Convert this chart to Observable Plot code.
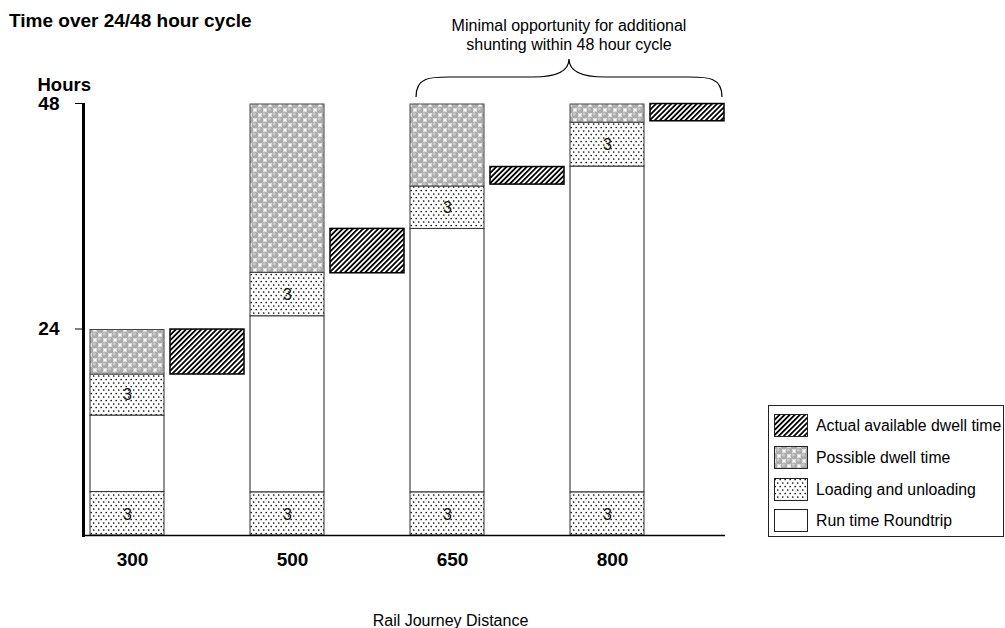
<!DOCTYPE html>
<html>
<head>
<meta charset="utf-8">
<script src="https://cdn.jsdelivr.net/npm/d3@7"></script>
<script src="https://cdn.jsdelivr.net/npm/@observablehq/plot@0.6"></script>
<style>
  body { margin: 0; background: #fff; font-family: "Liberation Sans", Arial, sans-serif; color: #000; }
  #wrap { position: relative; width: 1005px; height: 628px; overflow: hidden; }
  #title { position: absolute; left: 9px; top: 10px; font-size: 19px; font-weight: bold; white-space: nowrap; }
  #chart { position: absolute; left: 0; top: 0; }
  #legend { position: absolute; left: 768px; top: 405px; width: 236px; height: 132px; border: 1px solid #222; box-sizing: border-box; background: #fff; }
  .row { position: absolute; left: 5px; height: 23px; display: flex; align-items: center; font-size: 15.8px; white-space: nowrap; }
  .row svg { margin-right: 8px; flex: none; }
</style>
</head>
<body>
<svg width="0" height="0" style="position:absolute">
  <defs>
    <pattern id="hatch" width="3.6" height="3.6" patternUnits="userSpaceOnUse" patternTransform="rotate(45)">
      <rect width="3.6" height="3.6" fill="#fff"/>
      <rect width="1.8" height="3.6" fill="#000"/>
    </pattern>
    <pattern id="dots" width="5" height="7" patternUnits="userSpaceOnUse">
      <rect width="5" height="7" fill="#fff"/>
      <circle cx="1.2" cy="1.5" r="0.85" fill="#111"/>
      <circle cx="3.7" cy="5" r="0.85" fill="#111"/>
    </pattern>
    <pattern id="bubbles" width="10" height="10" patternUnits="userSpaceOnUse">
      <rect width="10" height="10" fill="#fff"/>
      <g fill="#ababab">
        <circle cx="0" cy="0" r="3.5"/><circle cx="10" cy="0" r="3.5"/>
        <circle cx="0" cy="10" r="3.5"/><circle cx="10" cy="10" r="3.5"/>
        <circle cx="5" cy="5" r="3.5"/>
      </g>
      <g fill="#c9c9c9">
        <circle cx="4.2" cy="3.9" r="1.6"/>
        <circle cx="9.2" cy="8.9" r="1.6"/>
        <circle cx="-0.8" cy="8.9" r="1.6"/>
        <circle cx="9.2" cy="-1.1" r="1.6"/>
        <circle cx="-0.8" cy="-1.1" r="1.6"/>
      </g>
    </pattern>
  </defs>
</svg>
<div id="wrap">
  <div id="chart"></div>
  <div id="title">Time over 24/48 hour cycle</div>
  <div id="legend"></div>
</div>
<script>
const distances     = ["300", "500", "650", "800"];
const loadingHours  = [3, 3, 3, 3];                  // label of each loading block
const bottomLoadTop = [5.6, 5.55, 5.55, 5.55];       // first loading block: 0 -> this
const runTop        = [14.5, 25.5, 34.9, 41.5];      // run time roundtrip
const topLoadTop    = [19.1, 30.2, 39.4, 46.1];      // second loading block
const possibleTop   = [24, 48, 48, 48];              // possible dwell time
const actualBottom  = [19.1, 30.15, 39.6, 46.25];    // actual available dwell time
const actualTop     = [24.05, 34.9, 41.45, 48.05];
const yTicks = [24, 48];
const legendItems = ["Actual available dwell time", "Possible dwell time", "Loading and unloading", "Run time Roundtrip"];
const legendFills = ["url(#hatch)", "url(#bubbles)", "url(#dots)", "#fff"];
const annotation = ["Minimal opportunity for additional", "shunting within 48 hour cycle"];
const xTitle = "Rail Journey Distance";
const yTitle = "Hours";

// ---- build tables ----
const slots = distances.flatMap(d => [d, d + " dwell"]);
const loadSegs = [], runSegs = [], possibleSegs = [], actualSegs = [];
distances.forEach((d, i) => {
  loadSegs.push({slot: d, y1: 0, y2: bottomLoadTop[i], label: loadingHours[i]});
  runSegs.push({slot: d, y1: bottomLoadTop[i], y2: runTop[i]});
  loadSegs.push({slot: d, y1: runTop[i], y2: topLoadTop[i], label: loadingHours[i]});
  possibleSegs.push({slot: d, y1: topLoadTop[i], y2: possibleTop[i]});
  actualSegs.push({slot: d + " dwell", y1: actualBottom[i], y2: actualTop[i]});
});

function brace(index, scales) {
  const x = scales.x, y = scales.y;
  const bw = typeof x.bandwidth === "function" ? x.bandwidth() : 74;
  const x1 = x("650") + 6, x2 = x("800 dwell") + bw - 2;
  const y0 = y(48);
  const yEnd = y0 - 7, yFlat = y0 - 27, yTip = y0 - 45;
  const xm = (x1 + x2) / 2;
  const g = d3.create("svg:g");
  const p = `M${x1},${yEnd} C${x1},${yFlat - 1} ${x1 + 16},${yFlat} ${x1 + 36},${yFlat}`
    + ` L${xm - 36},${yFlat} C${xm - 12},${yFlat} ${xm},${yFlat - 6} ${xm},${yTip}`
    + ` C${xm},${yFlat - 6} ${xm + 12},${yFlat} ${xm + 36},${yFlat}`
    + ` L${x2 - 36},${yFlat} C${x2 - 16},${yFlat} ${x2},${yFlat - 1} ${x2},${yEnd}`;
  g.append("path").attr("d", p).attr("fill", "none").attr("stroke", "#000").attr("stroke-width", 1.2);
  annotation.forEach((t, i) => {
    g.append("text").attr("x", xm).attr("y", y0 - 73 + i * 19)
      .attr("text-anchor", "middle").attr("font-size", 16).attr("fill", "#000").text(t);
  });
  return g.node();
}

const chart = Plot.plot({
  width: 1005,
  height: 628,
  marginLeft: 83,
  marginRight: 280,
  marginTop: 104,
  marginBottom: 93,
  style: {fontFamily: '"Liberation Sans", Arial, sans-serif', background: "transparent", color: "#000"},
  x: {type: "band", domain: slots, range: [89, 724], paddingInner: 0.075, paddingOuter: 0},
  y: {type: "pow", exponent: 1.0686, domain: [0, 48]},
  marks: [
    Plot.barY(runSegs, {x: "slot", y1: "y1", y2: "y2", fill: "#fff", stroke: "#222", strokeWidth: 1}),
    Plot.barY(loadSegs, {x: "slot", y1: "y1", y2: "y2", fill: "url(#dots)", stroke: "#333", strokeWidth: 1}),
    Plot.barY(possibleSegs, {x: "slot", y1: "y1", y2: "y2", fill: "url(#bubbles)", stroke: "#444", strokeWidth: 1}),
    Plot.barY(actualSegs, {x: "slot", y1: "y1", y2: "y2", fill: "url(#hatch)", stroke: "#000", strokeWidth: 1.5}),
    Plot.text(loadSegs, {x: "slot", y: d => (d.y1 + d.y2) / 2, text: "label", fontSize: 16, fill: "#111"}),
    Plot.ruleY([0], {stroke: "#000", strokeWidth: 1.5}),
    Plot.frame({anchor: "left", stroke: "#000", strokeWidth: 3}),
    Plot.axisY({ticks: yTicks, tickSize: 8, tickPadding: 16, fontSize: 19, fontWeight: "bold", label: null, dy: -1}),
    Plot.axisX({ticks: distances, tickSize: 0, tickPadding: 17, fontSize: 19, fontWeight: "bold", label: null, dx: 5}),
    Plot.text([yTitle], {frameAnchor: "top-left", dx: -46, dy: -27, textAnchor: "start", fontWeight: "bold", fontSize: 18.5}),
    Plot.text([xTitle], {frameAnchor: "bottom", dx: 46, dy: 90, fontSize: 16}),
    brace
  ]
});
document.getElementById("chart").appendChild(chart);

// ---- legend ----
const legend = document.getElementById("legend");
const rowTops = [8, 40, 72, 103];
legendItems.forEach((name, i) => {
  const row = document.createElement("div");
  row.className = "row";
  row.style.top = rowTops[i] + "px";
  row.innerHTML = `<svg width="34" height="23"><rect x="0.5" y="0.5" width="33" height="22" fill="${legendFills[i]}" stroke="#222" stroke-width="1"/></svg><span>${name}</span>`;
  legend.appendChild(row);
});
</script>
</body>
</html>
